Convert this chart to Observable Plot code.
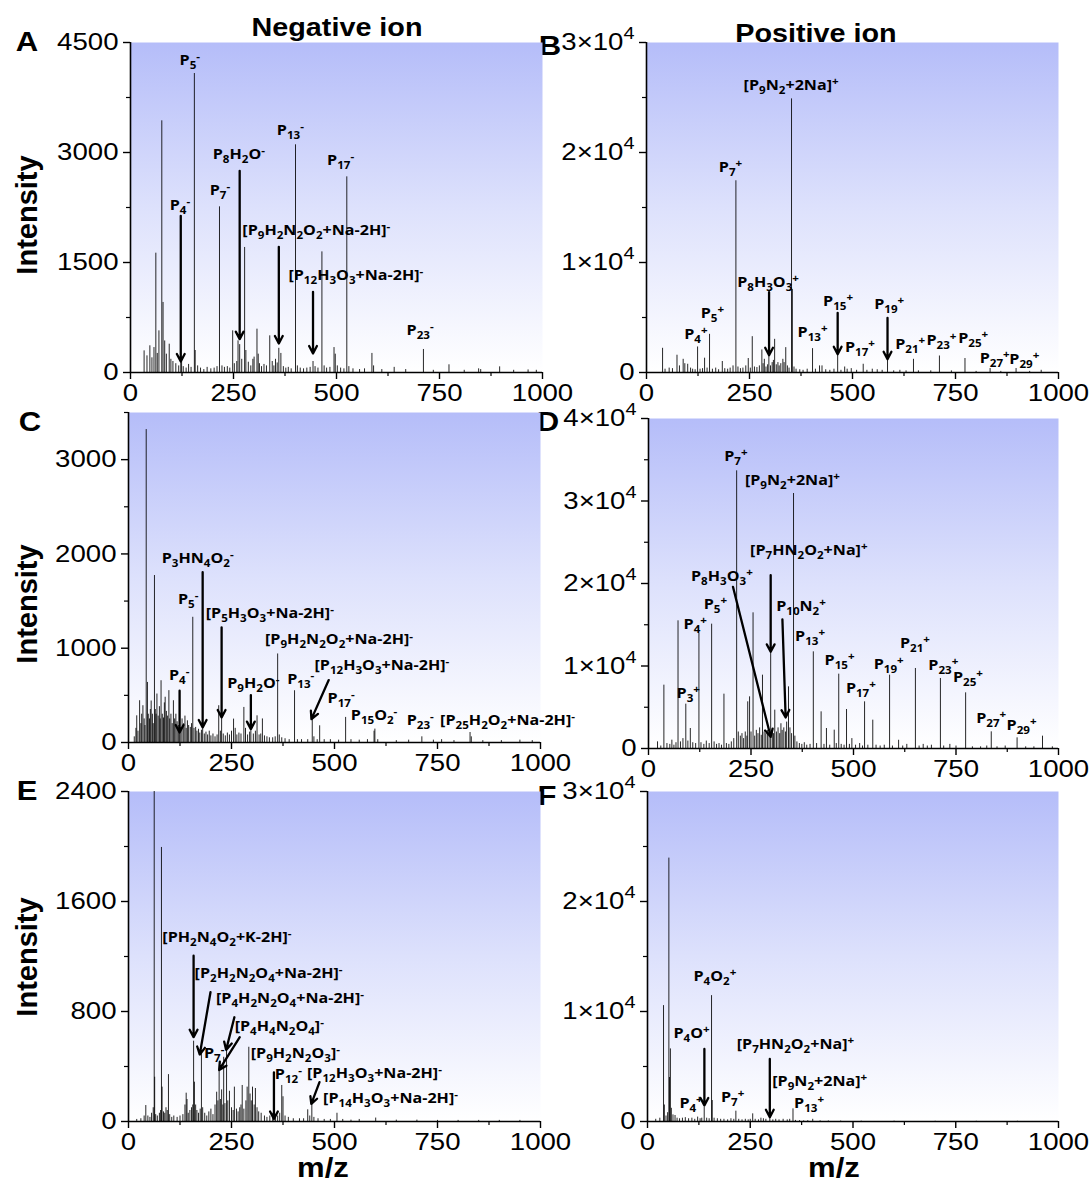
<!DOCTYPE html>
<html><head><meta charset="utf-8">
<script src="https://cdn.jsdelivr.net/npm/d3@7"></script>
<script src="https://cdn.jsdelivr.net/npm/@observablehq/plot@0.6"></script>
<style>
body{margin:0;background:#fff;}
#root{position:relative;width:1091px;height:1184px;overflow:hidden;background:#fff;}
#root svg{position:absolute;overflow:visible;}
.t{position:absolute;white-space:nowrap;font-family:"Liberation Sans",Arial,sans-serif;font-weight:bold;line-height:1;transform:translate(-50%,-50%) scaleX(1.15);color:#000;}
.rot{transform:translate(-50%,-50%) rotate(-90deg);font-size:29px;}
.mz{line-height:0.72;}
</style></head>
<body><div id="root">
<div class="t" style="left:337px;top:27px;font-size:25px">Negative ion</div>
<div class="t" style="left:816px;top:33px;font-size:25px">Positive ion</div>
<div class="t" style="left:27px;top:42px;font-size:27px">A</div>
<div class="t" style="left:550px;top:46px;font-size:27px">B</div>
<div class="t" style="left:30px;top:422px;font-size:27px">C</div>
<div class="t" style="left:548px;top:422px;font-size:27px">D</div>
<div class="t" style="left:27px;top:791px;font-size:27px">E</div>
<div class="t" style="left:547px;top:796px;font-size:27px">F</div>
<div class="t rot" style="left:27px;top:215px">Intensity</div>
<div class="t rot" style="left:27px;top:604px">Intensity</div>
<div class="t rot" style="left:27px;top:957px">Intensity</div>
<div class="t mz" style="left:323px;top:1169px;font-size:27px">m/z</div>
<div class="t mz" style="left:834px;top:1169px;font-size:27px">m/z</div>
<div class="t" style="left:1010px;top:69px;font-size:26px">2 d</div>
<div class="t" style="left:1022px;top:433px;font-size:26px">8 d</div>
<div class="t" style="left:1006px;top:811px;font-size:26px">20 d</div>
</div>
<script>
// ---------- DATA ----------
const xTicks = [0, 250, 500, 750, 1000];
const xMinorTicks = [125, 375, 625, 875];

// Panel A: negative ion, 2 d
const peaksA = [[33,295],[40,227],[47,364],[52,200],[57,340],[61.5,1627],[65,260],[69,568],[76,3432],[79,955],[83,430],[87,250],[94,386],[98,180],[103,150],[110,120],[117,90],[122,150],[124,200],[128,80],[135,60],[141,110],[147,70],[155,4077],[157,300],[163,90],[170,60],[178,40],[186,70],[195,50],[203,60],[210,80],[216,2259],[222,90],[228,70],[235,80],[241,60],[248,568],[252,120],[258,150],[261,432],[265,380],[270,180],[277,1705],[280,300],[286,140],[292,90],[297,180],[300,210],[307,591],[310,250],[313,120],[318,80],[324,110],[330,90],[338,500],[344,150],[348,90],[352,180],[356,130],[360,330],[365,260],[371,80],[377,60],[383,70],[390,50],[400.5,3105],[405,90],[412,60],[420,50],[428,60],[436,70],[443,150],[448,80],[455,60],[464.6,1645],[470,90],[476,60],[484,70],[494,340],[497,250],[502,90],[510,60],[518,50],[525,2668],[530,80],[540,50],[556,40],[568,50],[586,260],[590,90],[610,40],[640,70],[668,40],[711,314],[735,30],[773,105],[810,30],[845,50],[850,40],[896,77],[930,30],[965,35],[985,30]];
const labelsA = [
  {t:"P_5^-", x:144, y:4250}, {t:"P_13^-", x:388, y:3295}, {t:"P_8H_2O^-", x:263, y:2977},
  {t:"P_17^-", x:510, y:2895}, {t:"P_7^-", x:217, y:2477}, {t:"P_4^-", x:120, y:2273},
  {t:"[P_9H_2N_2O_2+Na-2H]^-", x:451, y:1932}, {t:"[P_12H_3O_3+Na-2H]^-", x:547, y:1318},
  {t:"P_23^-", x:703, y:568}];
const arrowsA = [{x1:122,y1:2136,x2:122,y2:150},{x1:265,y1:2750,x2:265,y2:455},{x1:360,y1:1714,x2:360,y2:395},{x1:443,y1:1100,x2:443,y2:259}];

// Panel B: positive ion, 2 d
const peaksB = [[39,2200],[45,300],[55,400],[63,350],[74,1570],[80,600],[89,1200],[93,800],[100,750],[107,400],[112,300],[118,250],[124,2320],[130,300],[136,350],[141,1300],[147,400],[153,3470],[160,300],[168,400],[175,250],[184,1000],[190,350],[197,300],[203,400],[210,600],[217,17430],[222,500],[228,350],[234,400],[241,600],[247,1270],[252,400],[256.7,3256],[262,500],[268,450],[274,600],[280,2050],[283,800],[286,1200],[290,500],[294,700],[297,1800],[301,600],[305,900],[308,1100],[311,3015],[315,700],[319,900],[322,600],[326,800],[331,1200],[334,900],[338,2260],[342,600],[346,400],[352,24874],[354,7540],[358,500],[363,300],[372,250],[380,200],[390,300],[403,2170],[410,300],[420,600],[426,600],[435,250],[445,200],[455,300],[464,1660],[472,200],[481,500],[487,300],[497,350],[510,200],[526,750],[535,200],[548,300],[560,250],[572,200],[585,1200],[600,150],[615,200],[630,150],[648,1200],[660,150],[690,150],[711,1500],[740,150],[773,1270],[800,100],[834,360],[860,100],[897,360],[930,100],[958,200]];
const labelsB = [
  {t:"[P_9N_2+2Na]^+", x:351, y:26080}, {t:"P_7^+", x:204, y:18630}, {t:"P_8H_3O_3^+", x:295, y:8140},
  {t:"P_5^+", x:160, y:5350}, {t:"P_4^+", x:120, y:3450}, {t:"P_13^+", x:403, y:3618},
  {t:"P_15^+", x:465, y:6480}, {t:"P_17^+", x:518, y:2260}, {t:"P_19^+", x:589, y:6180},
  {t:"P_21^+", x:640, y:2500}, {t:"P_23^+", x:716, y:2925}, {t:"P_25^+", x:793, y:3100},
  {t:"P_27^+", x:845, y:1250}, {t:"P_29^+", x:917, y:1200}];
const arrowsB = [{x1:297.5,y1:7296,x2:297.5,y2:1568},{x1:464,y1:5427,x2:464,y2:1658},{x1:585,y1:4975,x2:585,y2:1206}];

// Panel C: negative ion, 8 d
const peaksC = [[14,60],[18,150],[20,283],[23,120],[27,443],[30,200],[32,300],[35,390],[38,250],[40,180],[43,3319],[46,637],[48,300],[51,250],[53,350],[55,440],[58,300],[60,200],[63,1771],[65,350],[67,300],[69,514],[72,280],[75,380],[77,250],[79,655],[82,300],[85,260],[87,420],[89,480],[92,330],[95,280],[98,550],[100,250],[103,300],[106,200],[109,443],[112,250],[115,300],[118,220],[121,180],[124,550],[127,160],[130,250],[134,200],[137,280],[140,150],[143,230],[146,180],[150,160],[153,200],[156,1328],[159,150],[163,160],[166,120],[170,140],[173,100],[177,130],[180,160],[184,90],[188,110],[192,80],[196,120],[200,70],[205,90],[210,60],[215,80],[219,390],[223,120],[226,260],[230,90],[235,70],[240,100],[245,80],[250,120],[255,248],[259,150],[263,80],[268,100],[273,90],[280,372],[284,150],[289,80],[294,110],[297,140],[303,90],[308,120],[312,283],[317,80],[321,90],[325,250],[330,70],[336,60],[342,50],[350,50],[356,60],[362,939],[366,80],[372,50],[380,40],[390,30],[403,549],[410,30],[420,30],[435,30],[446,248],[450,60],[458,30],[464,177],[475,30],[490,30],[510,25],[527,266],[540,30],[560,25],[580,30],[596,120],[598,142],[605,30],[650,20],[680,25],[712,60],[740,25],[760,30],[790,20],[829,106],[832,60],[860,20],[905,20],[950,25],[980,20]];
const labelsC = [
  {t:"P_3HN_4O_2^-", x:168, y:1948}, {t:"P_5^-", x:145, y:1516}, {t:"[P_5H_3O_3+Na-2H]^-", x:343, y:1371},
  {t:"[P_9H_2N_2O_2+Na-2H]^-", x:511, y:1087}, {t:"[P_12H_3O_3+Na-2H]^-", x:615, y:815},
  {t:"P_4^-", x:123, y:708}, {t:"P_9H_2O^-", x:303, y:627}, {t:"P_13^-", x:418, y:673},
  {t:"P_17^-", x:516, y:468}, {t:"P_15O_2^-", x:596, y:283}, {t:"P_23^-", x:708, y:230},
  {t:"[P_25H_2O_2+Na-2H]^-", x:920, y:230}];
const arrowsC = [{x1:124,y1:549,x2:124,y2:106},{x1:180,y1:1807,x2:180,y2:160},{x1:226,y1:1222,x2:226,y2:266},{x1:297,y1:503,x2:297,y2:142},{x1:486,y1:662,x2:444,y2:248}];

// Panel D: positive ion, 8 d
const peaksD = [[22,808],[30,300],[37.5,7677],[45,600],[52,500],[57,1010],[62,400],[67,700],[72,15475],[78,800],[84,1200],[91,5374],[96,900],[102,2424],[108,700],[115,600],[123,13939],[128,700],[135,500],[141,900],[148,600],[154,15071],[160,800],[166,500],[172,600],[178,400],[184,6586],[190,600],[196,500],[202,800],[208,1200],[215,33657],[219,2000],[224,1500],[228,1800],[232,1200],[236,2000],[240,1500],[242,5657],[246.5,6263],[250,2000],[255,16444],[259,1500],[263,2200],[267,1800],[271,2500],[275,1600],[278,8889],[282,2000],[286,1800],[290,2200],[294,1500],[298,11717],[302,2200],[305,1800],[308,4646],[312,2000],[316,2500],[320,1800],[323,3000],[326,2200],[330,2500],[334,2000],[337,3200],[341.5,7475],[345,2500],[349,1800],[353.7,30909],[357,1500],[362,800],[368,600],[374,500],[380,700],[386,400],[394,500],[402,11717],[410,600],[421,4444],[428,500],[434,2424],[442,400],[453,2222],[458,600],[464,9010],[470,500],[477,400],[483,4727],[490,500],[496,1200],[505,400],[515,600],[522,300],[527,5657],[535,400],[547,3434],[555,400],[565,300],[575,400],[588,8889],[595,300],[610,1000],[620,300],[630,500],[651,9697],[660,300],[670,500],[680,300],[690,400],[712,8485],[720,300],[735,500],[750,300],[773.5,6747],[790,200],[810,200],[825,300],[836,2020],[850,200],[870,300],[899,1293],[920,200],[940,200],[961,1495],[985,200]];
const labelsD = [
  {t:"P_7^+", x:213, y:35354}, {t:"[P_9N_2+2Na]^+", x:351, y:32525}, {t:"[P_7HN_2O_2+Na]^+", x:391, y:24040},
  {t:"P_8H_3O_3^+", x:179, y:20808}, {t:"P_10N_2^+", x:372, y:17250}, {t:"P_5^+", x:163, y:17500},
  {t:"P_4^+", x:114, y:15000}, {t:"P_13^+", x:394, y:13535}, {t:"P_15^+", x:466, y:10707},
  {t:"P_21^+", x:650, y:12700}, {t:"P_19^+", x:586, y:10200}, {t:"P_23^+", x:719, y:10100},
  {t:"P_25^+", x:779, y:8600}, {t:"P_17^+", x:518, y:7232}, {t:"P_3^+", x:97, y:6667},
  {t:"P_27^+", x:836, y:3636}, {t:"P_29^+", x:910, y:2828}];
const arrowsD = [{x1:206,y1:19596,x2:298,y2:1414},{x1:298,y1:21010,x2:298,y2:11717},{x1:326.6,y1:15636,x2:334.5,y2:3758}];

// Panel E: negative ion, 20 d
const peaksE = [[20,15],[30,20],[38,40],[42,116],[47,40],[52,30],[56,60],[60,100],[62.4,2400],[63.5,322],[66,50],[70,40],[75,60],[78,80],[80,1993],[81.5,250],[85,70],[88,60],[91,100],[94,80],[97,341],[100,50],[105,30],[110,40],[118,30],[125,40],[132,50],[137,120],[140,206],[142,160],[145,60],[149,80],[153,100],[156,120],[158,584],[160,286],[163,120],[166,80],[170,60],[174,90],[177,504],[180,100],[185,60],[190,40],[195,70],[200,90],[205,50],[210,120],[214,213],[217,150],[220,371],[223,160],[226,230],[229,120],[231,467],[234,130],[238,516],[241,150],[245,220],[250,100],[254,80],[257,250],[262,90],[266,70],[270,100],[273,120],[276,262],[280,90],[285,150],[288,250],[292,540],[295,200],[298,150],[301,250],[305,120],[308,240],[312,100],[316,70],[322,60],[330,40],[336,30],[343,40],[350,60],[353,346],[357,50],[362,40],[367,60],[372,262],[375,180],[380,40],[388,30],[400,20],[415,20],[425,20],[435,85],[440,40],[445,128],[450,30],[460,20],[475,15],[490,15],[506,60],[520,15],[540,10],[560,15],[600,25],[650,10],[700,10],[750,8],[800,8],[850,8],[900,8],[950,8]];
const labelsE = [
  {t:"[PH_2N_4O_2+K-2H]^-", x:239, y:1339}, {t:"[P_2H_2N_2O_4+Na-2H]^-", x:340, y:1073},
  {t:"[P_4H_2N_2O_4+Na-2H]^-", x:392, y:891}, {t:"[P_4H_4N_2O_4]^-", x:366, y:690},
  {t:"P_7^-", x:208, y:496}, {t:"[P_9H_2N_2O_3]^-", x:405, y:492}, {t:"P_12^-", x:388, y:339},
  {t:"[P_12H_3O_3+Na-2H]^-", x:597, y:351}, {t:"[P_14H_3O_3+Na-2H]^-", x:636, y:165}];
const arrowsE = [{x1:158,y1:1206,x2:158,y2:613},{x1:199,y1:940,x2:173,y2:487},{x1:257,y1:758,x2:237,y2:521},{x1:270,y1:613,x2:220,y2:375},{x1:353,y1:358,x2:353,y2:19},{x1:463.6,y1:286,x2:443.7,y2:128}];

// Panel F: positive ion, 20 d
const peaksF = [[20,200],[30,300],[39,10535],[41,1500],[45,500],[49,800],[52,23946],[53.5,4000],[55.7,6600],[58,1200],[62,600],[67,545],[72,300],[78,250],[85,300],[92,350],[100,250],[108,300],[115,200],[122,400],[128,250],[132,300],[138,1300],[144,300],[150,250],[155.8,11443],[157.5,1907],[162,300],[170,250],[178,200],[186,200],[195,150],[203,250],[210,200],[215,938],[222,200],[230,150],[238,200],[245,150],[250,200],[256,696],[262,200],[270,150],[276,300],[282,250],[288,200],[297.6,696],[305,150],[312,200],[320,150],[330,200],[340,150],[346,200],[354,1150],[360,100],[370,80],[380,60],[390,80],[402,200],[420,60],[440,50],[470,40],[520,30],[600,30],[700,20],[800,20],[900,20]];
const labelsF = [
  {t:"P_4O_2^+", x:164, y:13199}, {t:"P_4O^+", x:107, y:7962}, {t:"[P_7HN_2O_2+Na]^+", x:360, y:6993},
  {t:"[P_9N_2+2Na]^+", x:419, y:3663}, {t:"P_7^+", x:207, y:2210}, {t:"P_4^+", x:106, y:1604},
  {t:"P_13^+", x:393, y:1604}];
const arrowsF = [{x1:138.4,y1:6600,x2:138.4,y2:1453},{x1:297.6,y1:5691,x2:297.6,y2:393}];

// ---------- RENDERING ----------
const SX = 1.15;
function parseRich(s) {
  const out = []; let i = 0, buf = "";
  while (i < s.length) {
    const c = s[i];
    if (c === "_" || c === "^") {
      if (buf) { out.push({t: buf, k: 0}); buf = ""; }
      let j = i + 1, run = "";
      if (c === "_") { while (j < s.length && /[0-9]/.test(s[j])) run += s[j++]; }
      else { run = s[j]; j++; }
      out.push({t: run, k: c === "_" ? 1 : 2}); i = j;
    } else { buf += c; i++; }
  }
  if (buf) out.push({t: buf, k: 0});
  return out;
}
function rich(el, fs, subDy, supDy, scale) {
  const s = el.textContent;
  if (!/[_^]/.test(s)) return;
  const segs = parseRich(s);
  while (el.firstChild) el.removeChild(el.firstChild);
  let cur = 0;
  for (const g of segs) {
    const ts = document.createElementNS("http://www.w3.org/2000/svg", "tspan");
    const target = g.k === 1 ? subDy : g.k === 2 ? supDy : 0;
    const d = target - cur;
    if (d) ts.setAttribute("dy", d);
    if (g.k) ts.setAttribute("font-size", fs * scale);
    ts.textContent = g.t;
    el.appendChild(ts);
    cur = target;
  }
}
function stretch(el) {
  const tr = el.getAttribute("transform") || "";
  el.setAttribute("transform", tr + ` scale(${SX},1)`);
}

function panel(cfg) {
  const peaks = cfg.peaks.map(([m, v]) => ({mz: m, I: v}));
  const gid = "grad" + cfg.id;
  const sci = (d) => d === 0 ? "0" : `${d / 1e4}×10^4`;
  const svg = Plot.plot({
    width: cfg.w, height: cfg.h,
    marginLeft: cfg.mL, marginRight: cfg.w - cfg.mL - 412 + (cfg.dw || 0),
    marginTop: cfg.mT, marginBottom: cfg.h - cfg.mT - 330,
    x: {domain: [0, 1000]},
    y: {domain: [0, cfg.yMax]},
    style: {background: "none", color: "#000", overflow: "visible", fontFamily: "'Liberation Sans', Arial, sans-serif"},
    marks: [
      Plot.frame({fill: `url(#${gid})`, stroke: "none"}),
      Plot.ruleX(peaks, {x: "mz", y1: 0, y2: "I", stroke: "#000", strokeWidth: 0.85}),
      Plot.arrow(cfg.arrows, {x1: "x1", y1: "y1", x2: "x2", y2: "y2", stroke: "#000", strokeWidth: 2.3, headLength: 5.5, headAngle: 55}),
      Plot.text(cfg.labels, {x: "x", y: "y", text: "t", fontFamily: "'Open Sans', 'Noto Sans', sans-serif", fontWeight: "bold", fontSize: 14, fill: "#000", className: "lbl"}),
      Plot.axisY({ticks: cfg.yMajor, tickSize: 7, tickPadding: 5, strokeWidth: 1.4, fontSize: 24, label: null, tickFormat: cfg.sci ? sci : (d) => String(d), className: "yax"}),
      Plot.axisY({ticks: cfg.yMinor, tickSize: 4, strokeWidth: 1.2, tickFormat: () => "", label: null}),
      Plot.axisX({ticks: xTicks, tickSize: 7, tickPadding: 4, strokeWidth: 1.4, fontSize: 24, label: null, tickFormat: (d) => String(d), className: "xax"}),
      Plot.axisX({ticks: xMinorTicks, tickSize: 4, strokeWidth: 1.2, tickFormat: () => "", label: null}),
      Plot.ruleX([0], {stroke: "#000", strokeWidth: 1.6}),
      Plot.ruleY([0], {stroke: "#000", strokeWidth: 1.6})
    ]
  });
  const ns = "http://www.w3.org/2000/svg";
  const defs = document.createElementNS(ns, "defs");
  defs.innerHTML = `<linearGradient id="${gid}" x1="0" y1="0" x2="0" y2="1"><stop offset="0" stop-color="#b5bdf9"/><stop offset="0.5" stop-color="#dde1fc"/><stop offset="1" stop-color="#ffffff"/></linearGradient>`;
  svg.insertBefore(defs, svg.firstChild);
  svg.style.left = cfg.left + "px";
  svg.style.top = cfg.top + "px";
  svg.querySelectorAll(".lbl text").forEach((el) => { rich(el, 14, 4, -5, 0.72); stretch(el); });
  svg.querySelectorAll(".yax text, .xax text").forEach((el) => { rich(el, 24, 0, -11, 0.72); stretch(el); });
  document.getElementById("root").appendChild(svg);
}

const majorSci = [0, 10000, 20000, 30000];
panel({id: "A", peaks: peaksA, labels: labelsA, arrows: arrowsA, yMax: 4500, yMajor: [0, 1500, 3000, 4500], yMinor: [750, 2250, 3750],
  left: 0, top: 0, w: 560, h: 400, mL: 130, mT: 42});
panel({id: "B", peaks: peaksB, labels: labelsB, arrows: arrowsB, yMax: 30000, yMajor: majorSci, yMinor: [5000, 15000, 25000], sci: true,
  left: 545, top: 0, w: 546, h: 400, mL: 101, mT: 42});
panel({id: "C", peaks: peaksC, labels: labelsC, arrows: arrowsC, yMax: 3500, yMajor: [0, 1000, 2000, 3000], yMinor: [500, 1500, 2500, 3500],
  left: 0, top: 400, w: 560, h: 370, mL: 128, mT: 12});
panel({id: "D", peaks: peaksD, labels: labelsD, arrows: arrowsD, yMax: 40000, yMajor: [0, 10000, 20000, 30000, 40000], yMinor: [5000, 15000, 25000, 35000], sci: true,
  left: 545, top: 400, w: 546, h: 370, mL: 103, mT: 18, dw: 2});
panel({id: "E", peaks: peaksE, labels: labelsE, arrows: arrowsE, yMax: 2400, yMajor: [0, 800, 1600, 2400], yMinor: [400, 1200, 2000],
  left: 0, top: 770, w: 560, h: 414, mL: 128, mT: 21});
panel({id: "F", peaks: peaksF, labels: labelsF, arrows: arrowsF, yMax: 30000, yMajor: majorSci, yMinor: [5000, 15000, 25000], sci: true,
  left: 545, top: 770, w: 546, h: 414, mL: 102, mT: 21, dw: 1});
</script>
</body></html>
